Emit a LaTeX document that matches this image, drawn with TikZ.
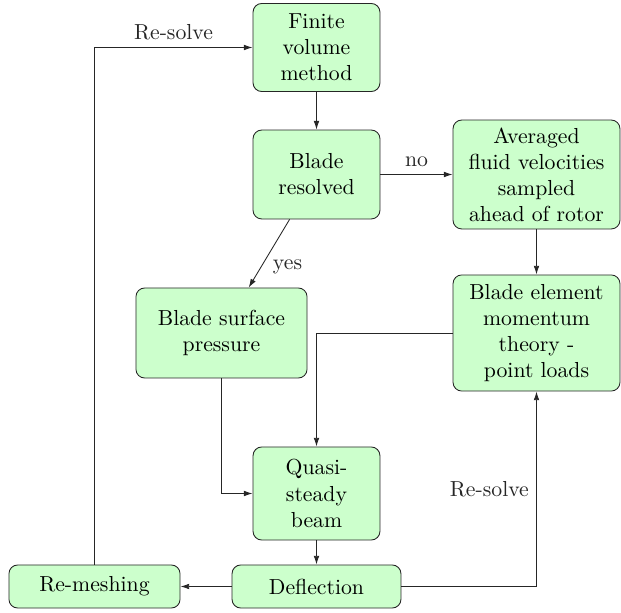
\documentclass[tikz,border=0pt]{standalone}
\usetikzlibrary{arrows.meta}
\definecolor{boxgreen}{RGB}{204,255,204}
\begin{document}
\begin{tikzpicture}[x=0.46pt,y=-0.46pt,
  box/.style={draw=black!85, fill=boxgreen, rounded corners=4pt, align=center, inner sep=2pt},
  conn/.style={-{Latex[length=4pt,width=2.6pt]}, black!85}]
\useasboundingbox (0,0) rectangle (621,613);
\node[box, minimum width=58.4pt, minimum height=40.5pt] (fvm) at (316.5,47.5) {Finite\\volume\\method};
\node[box, minimum width=58.4pt, minimum height=40.9pt] (res) at (316.5,174.5) {Blade\\resolved};
\node[box, minimum width=76.8pt, minimum height=50.1pt] (avg) at (536.5,174.5) {Averaged\\fluid velocities\\sampled\\ahead of rotor};
\node[box, minimum width=76.8pt, minimum height=53.4pt] (bem) at (536.5,333) {Blade element\\momentum\\theory -\\point loads};
\node[box, minimum width=78.7pt, minimum height=41.4pt] (bsp) at (221.5,333) {Blade surface\\pressure};
\node[box, minimum width=58.4pt, minimum height=42.8pt] (qsb) at (316.5,493.5) {Quasi-\\steady\\beam};
\node[box, minimum width=77.7pt, minimum height=19.8pt] (def) at (316.5,586.5) {Deflection};
\node[box, minimum width=78.7pt, minimum height=19.8pt] (rem) at (94.5,586.5) {Re-meshing};
\draw[conn] (fvm) -- (res);
\draw[conn] (res) -- node[above] {no} (avg);
\draw[conn] (res) -- node[pos=0.7, right, xshift=2pt] {yes} (bsp);
\draw[conn] (avg) -- (bem);
\draw[conn] (bem.west) -| (qsb.north);
\draw[conn] (bsp.south) |- (qsb.west);
\draw[conn] (qsb) -- (def);
\draw[conn] (def) -- (rem);
\draw[conn] (def.east) -| node[pos=0.75, left] {Re-solve} (bem.south);
\draw[conn] (rem.north) |- node[pos=0.75, above] {Re-solve} (fvm.west);
\end{tikzpicture}
\end{document}
